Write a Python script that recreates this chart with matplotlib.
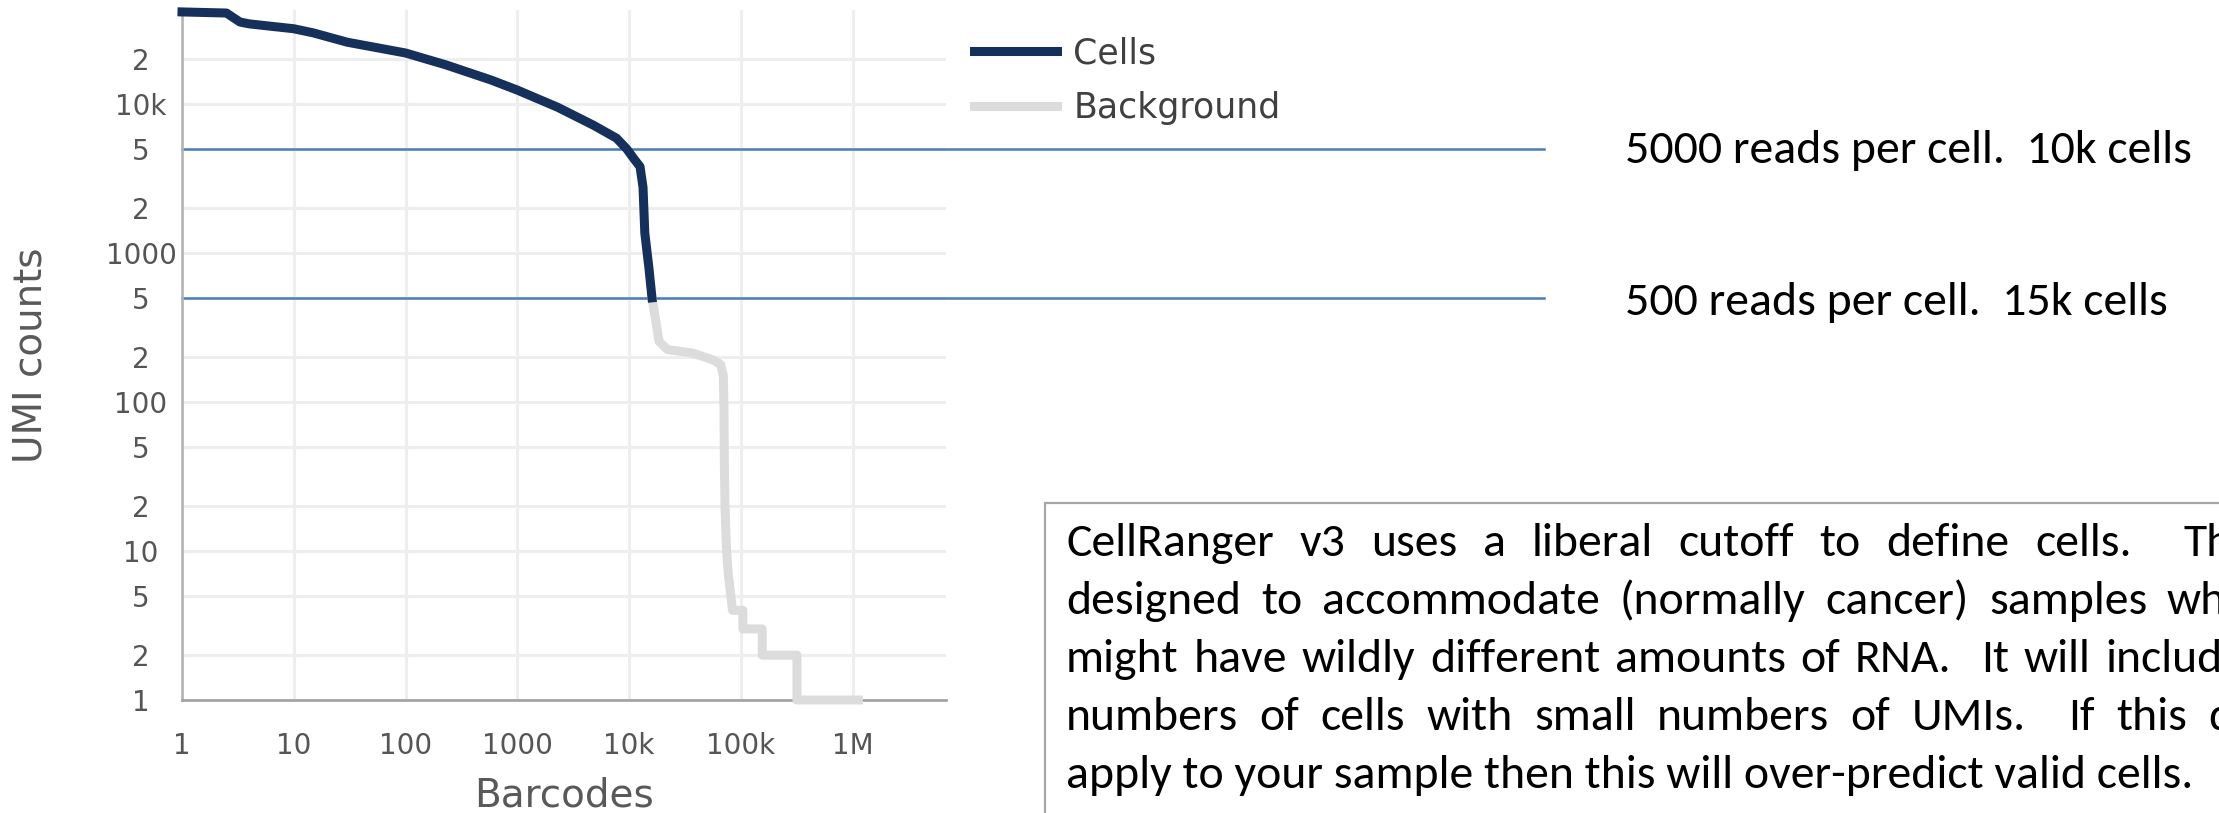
import re
import matplotlib
matplotlib.use("Agg")
import matplotlib.pyplot as plt
from matplotlib import font_manager as fm
from matplotlib.patches import Rectangle
from matplotlib.ticker import FixedLocator, FixedFormatter, NullLocator

# ---------------- data ----------------
cells_rank = [1, 2.5, 3.3, 4, 10, 15, 30, 100, 230, 580, 1000, 2300, 4800,
              7700, 9500, 11000, 12500, 13300, 13800, 15000, 16000]
cells_umi = [41500, 40800, 35500, 34500, 32000, 30000, 26000, 22000, 18300,
             14500, 12400, 9500, 7200, 5900, 5000, 4300, 3800, 2760, 1360, 800, 500]

bg_rank = [16000, 17000, 18500, 22000, 37000, 56000, 66000, 69500, 70500,
           71000, 72000, 74000, 77000, 80000, 84000, 104000, 104000, 155000,
           155000, 317000, 317000, 1120000]
bg_umi = [500, 380, 255, 225, 213, 192, 178, 150, 90, 40, 20, 10.6, 7, 5.5,
          4, 4, 3, 3, 2, 2, 1, 1]

series_labels = ["Cells", "Background"]

y_ticks = [1, 2, 5, 10, 20, 50, 100, 200, 500, 1000, 2000, 5000, 10000, 20000]
y_tick_labels = ["1", "2", "5", "10", "2", "5", "100", "2", "5", "1000", "2", "5", "10k", "2"]
x_ticks = [1, 10, 100, 1000, 1e4, 1e5, 1e6]
x_tick_labels = ["1", "10", "100", "1000", "10k", "100k", "1M"]

thresholds = [5000, 500]
threshold_notes = ["5000 reads per cell.  10k cells", "500 reads per cell.  15k cells"]

note_lines = [
    "CellRanger v3 uses a liberal cutoff to define cells.  This is",
    "designed to accommodate (normally cancer) samples where cells",
    "might have wildly different amounts of RNA.  It will include large",
    "numbers of cells with small numbers of UMIs.  If this doesn't",
    "apply to your sample then this will over-predict valid cells.",
]
# word of each justified line whose left edge is pinned (index, pixel x)
note_anchor = [(9, 2183), (6, 2167), (9, 2105), (10, 2208)]

# ---------------- styling ----------------
W, H, DPI = 2219, 813, 100
CELL_COLOR = "#15305b"
BG_COLOR = "#dcdcdc"
HLINE_COLOR = "#4a7ebb"
GRID_COLOR = "#eeeeee"
TICK_COLOR = "#555555"

plt.rcParams["font.family"] = ["DejaVu Sans"]

names = {f.name for f in fm.fontManager.ttflist}
note_family = next((n for n in ["Carlito", "Lato", "Open Sans", "Liberation Sans"] if n in names),
                   "DejaVu Sans")

fig = plt.figure(figsize=(W / DPI, H / DPI), dpi=DPI)
fig.patch.set_facecolor("white")
renderer = fig.canvas.get_renderer()


def fx(px):
    return px / W


def fy(py):
    return 1 - py / H


# axes placement (pixel box: left 182, right 946, top 10, bottom 700)
ax = fig.add_axes([fx(182), fy(700), (946 - 182) / W, (700 - 10) / H])
ax.set_xscale("log")
ax.set_yscale("log")
ax.set_xlim(1, 10 ** 6.834)
ax.set_ylim(1, 10 ** 4.631)

ax.xaxis.set_major_locator(FixedLocator(x_ticks))
ax.xaxis.set_major_formatter(FixedFormatter(x_tick_labels))
ax.xaxis.set_minor_locator(NullLocator())
ax.yaxis.set_major_locator(FixedLocator(y_ticks))
ax.yaxis.set_major_formatter(FixedFormatter(y_tick_labels))
ax.yaxis.set_minor_locator(NullLocator())

ax.grid(True, which="major", color=GRID_COLOR, lw=2.2, zorder=0)
ax.set_axisbelow(True)
ax.tick_params(axis="both", length=0, labelsize=20, colors=TICK_COLOR)
ax.tick_params(axis="x", pad=23)
ax.tick_params(axis="y", pad=29.5)
for lbl in ax.get_yticklabels():
    lbl.set_horizontalalignment("center")

for s in ["top", "right"]:
    ax.spines[s].set_visible(False)
ax.spines["left"].set_color("#b4b4b4")
ax.spines["left"].set_linewidth(1.9)
ax.spines["bottom"].set_color("#a0a0a0")
ax.spines["bottom"].set_linewidth(1.9)

ax.set_xlabel("Barcodes", fontsize=28, color="#595959")
ax.set_ylabel("UMI counts", fontsize=28, color="#595959")
ax.xaxis.set_label_coords(0.5, (700 - 795) / 690)
ax.xaxis.label.set_verticalalignment("center")
ax.yaxis.set_label_coords((31 - 182) / 764, 0.5)
ax.yaxis.label.set_verticalalignment("center")

# threshold lines extending past the plot
for t in thresholds:
    ax.axhline(t, xmin=0, xmax=(1544 - 182) / 764, color=HLINE_COLOR, lw=1.8,
               clip_on=False, zorder=2)

lw_curve = 6.5
ln_bg, = ax.plot(bg_rank, bg_umi, color=BG_COLOR, lw=lw_curve, clip_on=False,
                 zorder=3, solid_joinstyle="round", label=series_labels[1])
ln_cells, = ax.plot(cells_rank, cells_umi, color=CELL_COLOR, lw=lw_curve, clip_on=False,
                    zorder=4, solid_joinstyle="round", label=series_labels[0])

leg = ax.legend(handles=[ln_cells, ln_bg], loc="upper left",
                bbox_to_anchor=(fx(974), fy(36)), bbox_transform=fig.transFigure,
                frameon=False, fontsize=25, borderpad=0, borderaxespad=0,
                handlelength=2.4, handletextpad=0.46, labelspacing=0.6)
for txt in leg.get_texts():
    txt.set_color("#404040")
for h in leg.legend_handles:
    h.set_linewidth(6.5)


# ---------------- annotation text ----------------
def text_width(s, size, family):
    t = fig.text(0, 0, s, fontsize=size, family=family)
    w = t.get_window_extent(renderer).width
    t.remove()
    return w


base = 30.0
note_size = base * 567.0 / text_width(threshold_notes[0], base, note_family)

for t, note in zip([163, 315], threshold_notes):
    fig.text(fx(1625), fy(t), note, fontsize=note_size, family=note_family,
             color="black", ha="left", va="baseline")

# text box
box = Rectangle((fx(1045), fy(900)), (2500 - 1045) / W, (900 - 503) / H,
                transform=fig.transFigure, facecolor="white", edgecolor="#a6a6a6",
                lw=1.6, zorder=1)
fig.add_artist(box)

x_left = 1066
baselines = [556, 614, 672, 730, 788]
for i, (line, yb) in enumerate(zip(note_lines, baselines)):
    if i == len(note_lines) - 1:
        fig.text(fx(x_left), fy(yb), line, fontsize=note_size, family=note_family,
                 color="black", ha="left", va="baseline", zorder=2)
        continue
    words = [w for w in line.split(" ") if w]
    gaps = [len(g) for g in re.findall(r" +", line)]
    widths = [text_width(w, note_size, note_family) for w in words]
    k, xa = note_anchor[i]
    sp = (xa - x_left - sum(widths[:k])) / sum(gaps[:k])
    x = x_left
    for j, w in enumerate(words):
        fig.text(fx(x), fy(yb), w, fontsize=note_size, family=note_family,
                 color="black", ha="left", va="baseline", zorder=2)
        x += widths[j] + (gaps[j] * sp if j < len(gaps) else 0)

fig.savefig("out.png", dpi=DPI, facecolor="white")
